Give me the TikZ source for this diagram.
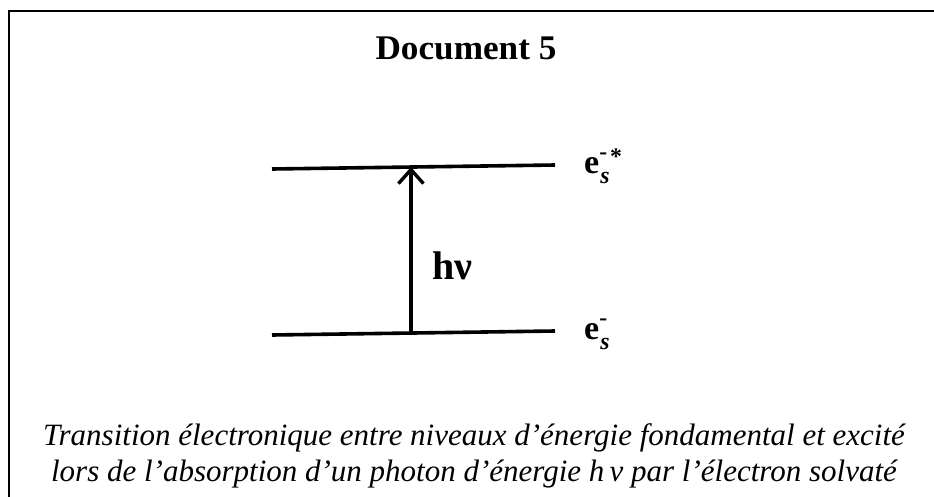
\documentclass[tikz,border=0pt]{standalone}
\usepackage{fontspec}
\setmainfont{Liberation Serif}
\usepackage{tikz}
\usetikzlibrary{arrows.meta,calc}

\newcommand{\elec}{e\rlap{\raisebox{5pt}{\textsuperscript{-}}}\textsubscript{\raisebox{-6pt}{\hspace{1pt}\textit{s}}}}

\begin{document}
\begin{tikzpicture}[x=1pt, y=-1pt,
  level/.style={line width=3.6pt},
  arr/.style={-{Straight Barb[length=14pt, width=25pt]}, line width=3.4pt},
  lbl/.style={font=\fontsize{34}{38}\selectfont\bfseries, inner sep=0pt},
  frame/.style={line width=1.6pt}]
  \useasboundingbox (0,0) rectangle (934,497);
  % frame (open to the right and bottom)
  \draw[frame] (9,497) -- (9,11) -- (934,11);
  % title
  \node[font=\fontsize{32}{36}\selectfont\bfseries, xscale=1.1, yscale=1.08] (title) at (466,48) {Document 5};
  % energy levels
  \coordinate (xl) at (272,169);
  \coordinate (xr) at (555,165);
  \coordinate (gl) at (272,335);
  \coordinate (gr) at (555,331);
  \draw[level] (xl) -- (xr);
  \draw[level] (gl) -- (gr);
  \coordinate (xa) at ($(xl)!0.491!(xr)$);
  \coordinate (ga) at ($(gl)!0.491!(gr)$);
  % transition
  \draw[arr] (ga) -- (xa);
  \node[lbl, font=\fontsize{40}{44}\selectfont\bfseries, anchor=west] (hnu) at (432,266) {hν};
  \node[lbl, anchor=west] (exc) at (584,166) {\elec\textsuperscript{*}};
  \node[lbl, anchor=west] (gnd) at (584,334) {\elec};
  % caption
  \node[font=\fontsize{31}{36}\selectfont\itshape, align=center, inner sep=0pt] (cap) at (474,456)
    {Transition électronique entre niveaux d’énergie fondamental et excité\\
     lors de l’absorption d’un photon d’énergie h\,ν par l’électron solvaté};
\end{tikzpicture}
\end{document}
